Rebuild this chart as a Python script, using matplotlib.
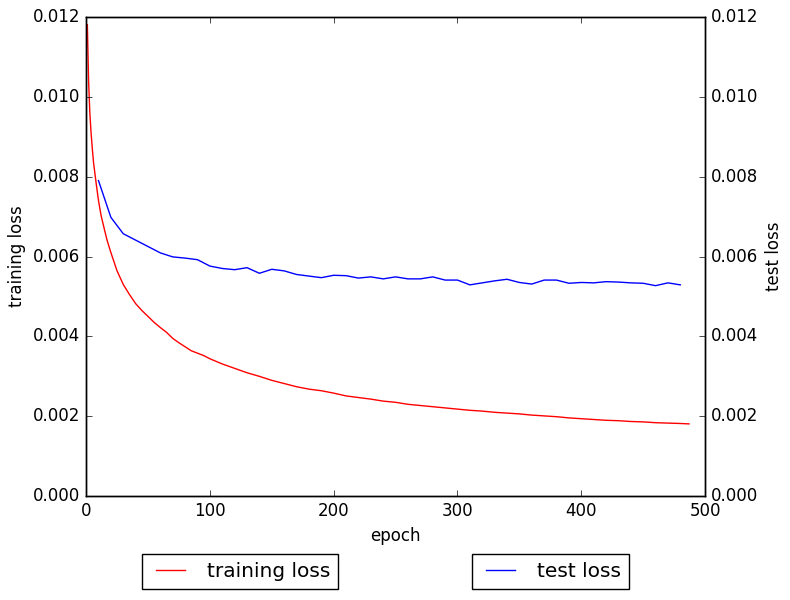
import matplotlib
matplotlib.use("Agg")
import matplotlib.pyplot as plt

plt.style.use("classic")

# training loss (epoch, value)
train_epochs = [1, 2, 3, 4, 5, 6, 8, 10, 12, 15, 17, 20, 25, 30, 35, 40, 45,
                50, 55, 60, 65, 70, 75, 80, 85, 90, 95, 100, 110, 120, 130,
                140, 150, 160, 170, 180, 190, 200, 210, 220, 230, 240, 250,
                260, 270, 280, 290, 300, 310, 320, 330, 340, 350, 360, 370,
                380, 390, 400, 410, 420, 430, 440, 450, 460, 470, 480, 487]
train_loss = [0.0118, 0.0104, 0.0096, 0.0091, 0.0087, 0.00835, 0.00786,
              0.0074, 0.00704, 0.00665, 0.0064, 0.0061, 0.00564, 0.0053,
              0.00505, 0.00482, 0.00465, 0.0045, 0.00435, 0.00422, 0.0041,
              0.00395, 0.00384, 0.00374, 0.00364, 0.00358, 0.00352, 0.00344,
              0.00331, 0.0032, 0.00309, 0.003, 0.0029, 0.00282, 0.00274,
              0.00268, 0.00264, 0.00258, 0.00251, 0.00247, 0.00243, 0.00238,
              0.00235, 0.0023, 0.00227, 0.00224, 0.00221, 0.00218, 0.00215,
              0.00213, 0.0021, 0.00208, 0.00206, 0.00203, 0.00201, 0.00199,
              0.00196, 0.00194, 0.00192, 0.0019, 0.00189, 0.00187, 0.00186,
              0.00184, 0.00183, 0.00182, 0.00181]

# test loss, every 10 epochs
test_epochs = list(range(10, 490, 10))
test_loss = [0.0079, 0.00698, 0.00657, 0.00641, 0.00625, 0.00609, 0.00599,
             0.00596, 0.00592, 0.00576, 0.0057, 0.00567, 0.00572, 0.00558,
             0.00568, 0.00564, 0.00555, 0.00551, 0.00547, 0.00553, 0.00552,
             0.00546, 0.00549, 0.00544, 0.00549, 0.00544, 0.00544, 0.00549,
             0.00541, 0.00541, 0.00529, 0.00534, 0.00539, 0.00543, 0.00535,
             0.00531, 0.00541, 0.00541, 0.00533, 0.00535, 0.00534, 0.00537,
             0.00536, 0.00534, 0.00533, 0.00527, 0.00534, 0.00529]

fig = plt.figure(figsize=(7.9, 6), dpi=100, facecolor="white")
ax = fig.add_axes([0.109, 0.173, 0.7835, 0.799])
ax.plot(train_epochs, train_loss, "r-", label="training loss")
ax.set_xlim(0, 500)
ax.set_ylim(0, 0.012)
ax.set_xlabel("epoch")
ax.set_ylabel("training loss")

ax2 = ax.twinx()
ax2.plot(test_epochs, test_loss, "b-", label="test loss")
ax2.set_xlim(0, 500)
ax2.set_ylim(0, 0.012)
ax2.set_ylabel("test loss")

fig.legend(handles=ax.get_lines(), loc="center",
           bbox_to_anchor=(0.304, 0.047), fontsize=14.5)
fig.legend(handles=ax2.get_lines(), loc="center",
           bbox_to_anchor=(0.697, 0.047), fontsize=14.5)

fig.savefig("out.png", dpi=100, facecolor="white")
